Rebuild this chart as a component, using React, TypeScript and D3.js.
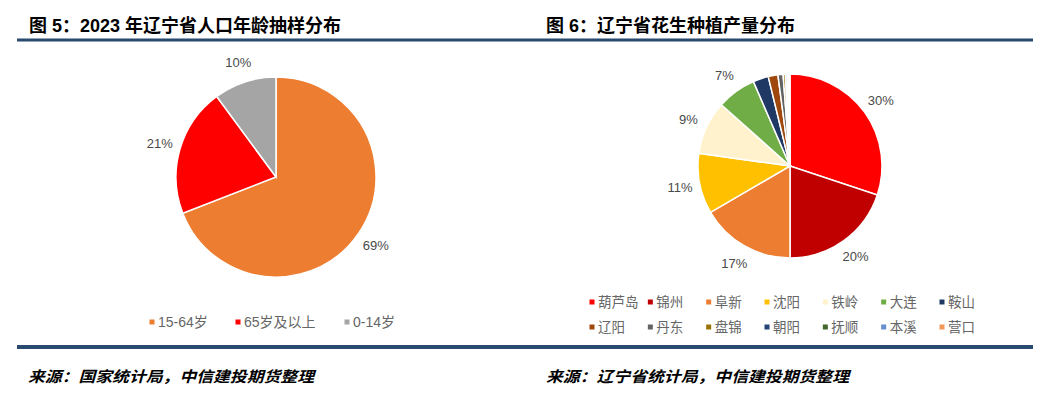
import React from 'react'
import * as d3 from 'd3'

// 图5 年龄结构
const ageGroups = ['15-64岁', '65岁及以上', '0-14岁']
const ageShares = [69.1, 20.8, 10.1]
const ageColors = ['#ED7D31', '#FF0000', '#A5A5A5']

// 图6 花生产量
const cities = ['葫芦岛', '锦州', '阜新', '沈阳', '铁岭', '大连', '鞍山',
  '辽阳', '丹东', '盘锦', '朝阳', '抚顺', '本溪', '营口']
const peanutShares = [30.1, 19.9, 16.6, 10.6, 9.4, 6.9, 2.7, 1.7, 0.9, 0.4, 0.3, 0.2, 0.1, 0.2]
const cityColors = ['#FF0000', '#C00000', '#ED7D31', '#FFC000', '#FFF2CC', '#70AD47', '#1F3864',
  '#9E480E', '#636363', '#997300', '#264478', '#43682B', '#698ED0', '#F1975A']

const W = 1040
const H = 395
const cjk = '"Liberation Sans", Arial, "Noto Sans CJK SC", sans-serif'
const navy = '#2A4A70'

const Pie = ({ values, colors, cx, cy, r, labelR, minLabel }) => {
  const pie = d3.pie().sort(null).value(d => d)
  const arcs = pie(values)
  const arc = d3.arc().innerRadius(0).outerRadius(r)
  const labelArc = d3.arc().innerRadius(labelR).outerRadius(labelR)
  return (
    <g transform={`translate(${cx},${cy})`}>
      {arcs.map((a, i) => (
        <path key={i} d={arc(a)} fill={colors[i]} stroke="#fff" strokeWidth={1.5} />
      ))}
      {arcs.map((a, i) => {
        if (a.data < minLabel) return null
        const [x, y] = labelArc.centroid(a)
        return (
          <text key={'l' + i} x={x} y={y} dy="0.35em" textAnchor="middle"
            fontSize={13} fill="#4a4a4a" fontFamily={cjk}>
            {Math.round(a.data)}%
          </text>
        )
      })}
    </g>
  )
}

const App = () => {
  const ageLegendX = d3.scaleOrdinal().domain(ageGroups).range([152, 238, 347])
  const cityCol = d3.scalePoint().domain(d3.range(7).map(String)).range([592, 942])
  const cityRow = d3.scalePoint().domain(['0', '1']).range([302, 327])

  return (
    <svg width={W} height={H} style={{ position: 'absolute', left: 0, top: 0, background: '#fff' }}>
      <rect width={W} height={H} fill="#fff" />
      {/* titles */}
      <text x={29} y={32} fontSize={18} fontWeight="bold" fill="#000" fontFamily={cjk}>
        图 5：2023 年辽宁省人口年龄抽样分布
      </text>
      <text x={546} y={32} fontSize={18} fontWeight="bold" fill="#000" fontFamily={cjk}>
        图 6：辽宁省花生种植产量分布
      </text>
      <rect x={17} y={38.5} width={1016} height={3} fill={navy} />

      <Pie values={ageShares} colors={ageColors} cx={276} cy={177} r={100} labelR={121} minLabel={0} />
      {ageGroups.map((g, i) => (
        <g key={g} transform={`translate(${ageLegendX(g)},322)`}>
          <rect x={-2.5} y={-2.5} width={5} height={5} fill={ageColors[i]} />
          <text x={6} dy="0.35em" fontSize={14} fill="#666" fontFamily={cjk}>{g}</text>
        </g>
      ))}

      <Pie values={peanutShares} colors={cityColors} cx={790} cy={166} r={92} labelR={112} minLabel={5} />
      {cities.map((c, i) => (
        <g key={c} transform={`translate(${cityCol(String(i % 7))},${cityRow(String(Math.floor(i / 7)))})`}>
          <rect x={-2.5} y={-2.5} width={5} height={5} fill={cityColors[i]} />
          <text x={6} dy="0.35em" fontSize={13.5} fill="#666" fontFamily={cjk}>{c}</text>
        </g>
      ))}

      <rect x={17} y={345} width={1016} height={4} fill={navy} />
      <text x={28} y={382} fontSize={15} fontWeight="bold" fontStyle="italic" fill="#000"
        fontFamily={cjk} textLength={286} lengthAdjust="spacingAndGlyphs">
        来源：国家统计局，中信建投期货整理
      </text>
      <text x={546} y={382} fontSize={15} fontWeight="bold" fontStyle="italic" fill="#000"
        fontFamily={cjk} textLength={303} lengthAdjust="spacingAndGlyphs">
        来源：辽宁省统计局，中信建投期货整理
      </text>
    </svg>
  )
}

export default App
